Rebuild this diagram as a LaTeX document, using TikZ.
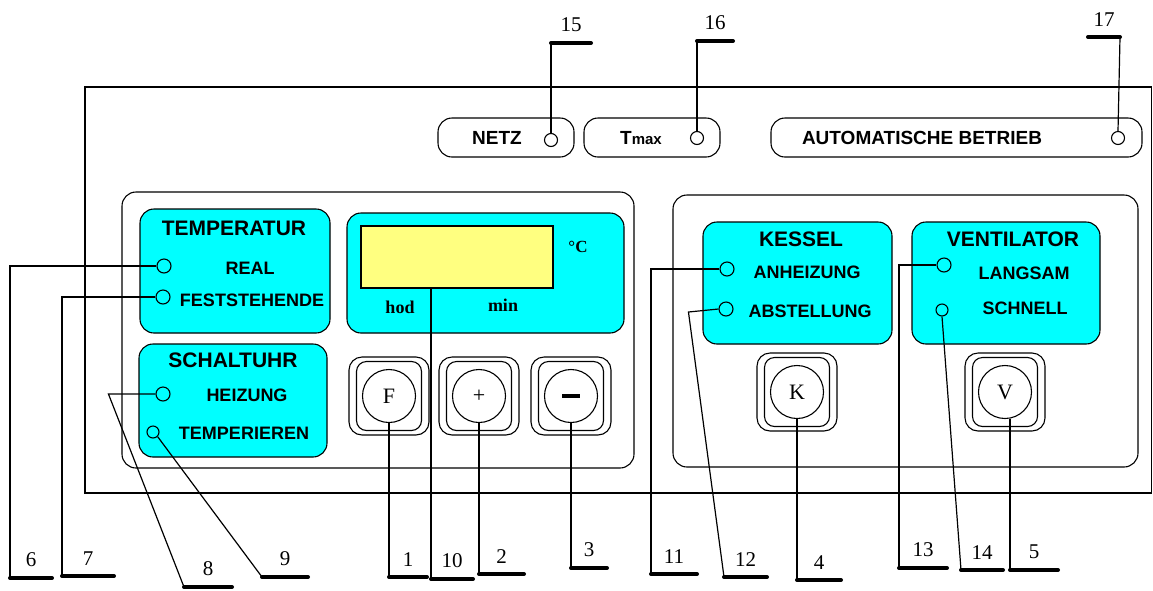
\documentclass[tikz,border=0pt]{standalone}
\usepackage{fontspec}
\setmainfont{Liberation Serif}
\setsansfont{Liberation Sans}
\usetikzlibrary{positioning}
\definecolor{panelcyan}{RGB}{0,255,255}
\definecolor{lcdyellow}{RGB}{255,255,128}
\newcommand{\titlefont}{\sffamily\bfseries\fontsize{21}{24}\selectfont}
\newcommand{\ledfont}{\sffamily\bfseries\fontsize{18}{21}\selectfont}
\newcommand{\pillfont}{\sffamily\bfseries\fontsize{19}{22}\selectfont}
\newcommand{\numfont}{\rmfamily\fontsize{21}{24}\selectfont}
\newcommand{\keyfont}{\rmfamily\fontsize{22}{24}\selectfont}

\begin{document}
\begin{tikzpicture}[x=1pt, y=-1pt, line width=1.1pt,
					panel/.style={draw, rounded corners=14pt},
					cyanbox/.style={draw, fill=panelcyan, rounded corners=14pt},
					pill/.style={draw, rounded corners=14pt},
					led/.style={draw, circle, minimum size=14pt, inner sep=0pt},
					smallled/.style={led, minimum size=12pt},
					title/.style={font=\titlefont, inner sep=0pt},
					ledtext/.style={font=\ledfont, inner sep=0pt},
					keyout/.style={draw, rounded corners=13pt, minimum width=80pt, minimum height=78pt},
					keymid/.style={draw, rounded corners=10pt, minimum width=65pt, minimum height=69pt},
					keycirc/.style={draw, circle, minimum size=53pt, inner sep=0pt, font=\keyfont},
					lead/.style={line width=1.2pt},
					bar/.style={line width=4pt, line cap=round},
					num/.style={font=\numfont, inner sep=1pt, above=8pt}]
	\useasboundingbox (0,0) rectangle (1153,590);
	% Frontplatte
	\draw (85,87) rectangle (1151.5,493);
	\draw[panel] (122,192) rectangle (634,468);
	\draw[panel] (673,195) rectangle (1138,467);
	% obere Anzeigen
	\draw[pill] (438,118) rectangle (574,157);
	\draw[pill] (584,118) rectangle (720,157);
	\draw[pill] (771,118) rectangle (1142,157);
	\node[font=\pillfont, inner sep=0pt] (netz) at (497,138) {NETZ};
	\node[font=\pillfont, inner sep=0pt] (tmax) at (641,138) {T{\fontsize{15}{18}\selectfont max}};
	\node[font=\pillfont, inner sep=0pt] (auto) at (922,138) {AUTOMATISCHE BETRIEB};
	\node[led, minimum size=13pt] (lnetz) at (551,140) {};
	\node[led, minimum size=13pt] (ltmax) at (697,138) {};
	\node[led, minimum size=13pt] (lauto) at (1118,138) {};
	% Felder links
	\draw[cyanbox] (140,209) rectangle (330,333);
	\draw[cyanbox] (139,344) rectangle (327,457);
	\draw[cyanbox] (347,213) rectangle (624,333);
	\draw[fill=lcdyellow] (361,226) rectangle (553,288);
	\coordinate (lcd) at (457,288);
	\node[title] (temp) at (234,228) {TEMPERATUR};
	\node[ledtext] (real) at (250,268) {REAL};
	\node[ledtext] (fest) at (252,300) {FESTSTEHENDE};
	\node[title] (uhr) at (233,360) {SCHALTUHR};
	\node[ledtext] (heiz) at (247,395) {HEIZUNG};
	\node[ledtext] (temper) at (244,433) {TEMPERIEREN};
	\node[led] (lreal) at (164,266) {};
	\node[led] (lfest) at (163,297) {};
	\node[led] (lheiz) at (163,394) {};
	\node[smallled] (ltemper) at (153,432) {};
	\node[font=\rmfamily\bfseries\fontsize{17}{20}\selectfont] (grad) at (578,247) {°C};
	\node[font=\rmfamily\bfseries\fontsize{18}{20}\selectfont] (hod) at (400,307) {hod};
	\node[font=\rmfamily\bfseries\fontsize{18}{20}\selectfont] (min) at (503,305) {min};
	% Felder rechts
	\draw[cyanbox] (703,222) rectangle (892,344);
	\draw[cyanbox] (912,222) rectangle (1100,344);
	\node[title] (kessel) at (801,239) {KESSEL};
	\node[ledtext] (anh) at (807,272) {ANHEIZUNG};
	\node[ledtext] (abst) at (810,311) {ABSTELLUNG};
	\node[title] (vent) at (1013,239) {VENTILATOR};
	\node[ledtext] (lang) at (1024,273) {LANGSAM};
	\node[ledtext] (schn) at (1025,308) {SCHNELL};
	\node[led] (lanh) at (727,269) {};
	\node[led] (labst) at (726,309) {};
	\node[led] (llang) at (944,265) {};
	\node[smallled] (lschn) at (942,310) {};
	% Tasten
	\foreach \n/\x/\y/\t in {kf/389/396/F, kplus/479/396/+, kminus/571/396/{\rule{18pt}{4pt}}, kk/797/392/K, kv/1005/392/V}
		{\node[keyout] at (\x,\y) {};
		 \node[keymid] at (\x,\y) {};
		 \node[keycirc] (\n) at (\x,\y) {\t};}
	% Bezugslinien
	\coordinate (b1) at (389,577); \coordinate (b2) at (479,574); \coordinate (b3) at (571,568);
	\coordinate (b4) at (797,580); \coordinate (b5) at (1010,570); \coordinate (b6) at (10,578);
	\coordinate (b7) at (62,576); \coordinate (b8) at (184,587); \coordinate (b9) at (262,577);
	\coordinate (b10) at (431,579); \coordinate (b11) at (651,574); \coordinate (b12) at (724,577);
	\coordinate (b13) at (899,568); \coordinate (b14) at (961,570); \coordinate (b15) at (551,43);
	\coordinate (b16) at (697,41); \coordinate (b17) at (1120,37);
	\draw[lead] (kf.south) -- (b1);
	\draw[lead] (kplus.south) -- (b2);
	\draw[lead] (kminus.south) -- (b3);
	\draw[lead] (kk.south) -- (b4);
	\draw[lead] (kv.south -| b5) -- (b5);
	\draw[lead] (lreal.west) -| (b6);
	\draw[lead] (lfest.west) -| (b7);
	\draw[lead] (lheiz.west) -- ++(-47,0) -- (b8);
	\draw[lead] (ltemper.south east) -- (b9);
	\draw[lead] (lcd -| b10) -- (b10);
	\draw[lead] (lanh.west) -| (b11);
	\draw[lead] (labst.west) -- ++(-30,3) -- (b12);
	\draw[lead] (llang.west) -| (b13);
	\draw[lead] (lschn.south) -- (b14);
	\draw[lead] (lnetz.north) -- (b15);
	\draw[lead] (ltmax.north) -- (b16);
	\draw[lead] (lauto.north) -- (b17);
	% Nummern
	\foreach \b/\w/\t in {b1/38/1, b2/45/2, b3/36/3, b4/44/4, b5/48/5, b6/42/6, b7/52/7, b8/48/8, b9/46/9, b10/42/10, b11/46/11, b12/43/12, b13/48/13, b14/42/14, b15/40/15, b16/36/16, b17/-32/17}
		\draw[bar] (\b) -- ++(\w,0) node[num, midway] (l\t) {\t};
\end{tikzpicture}
\end{document}
